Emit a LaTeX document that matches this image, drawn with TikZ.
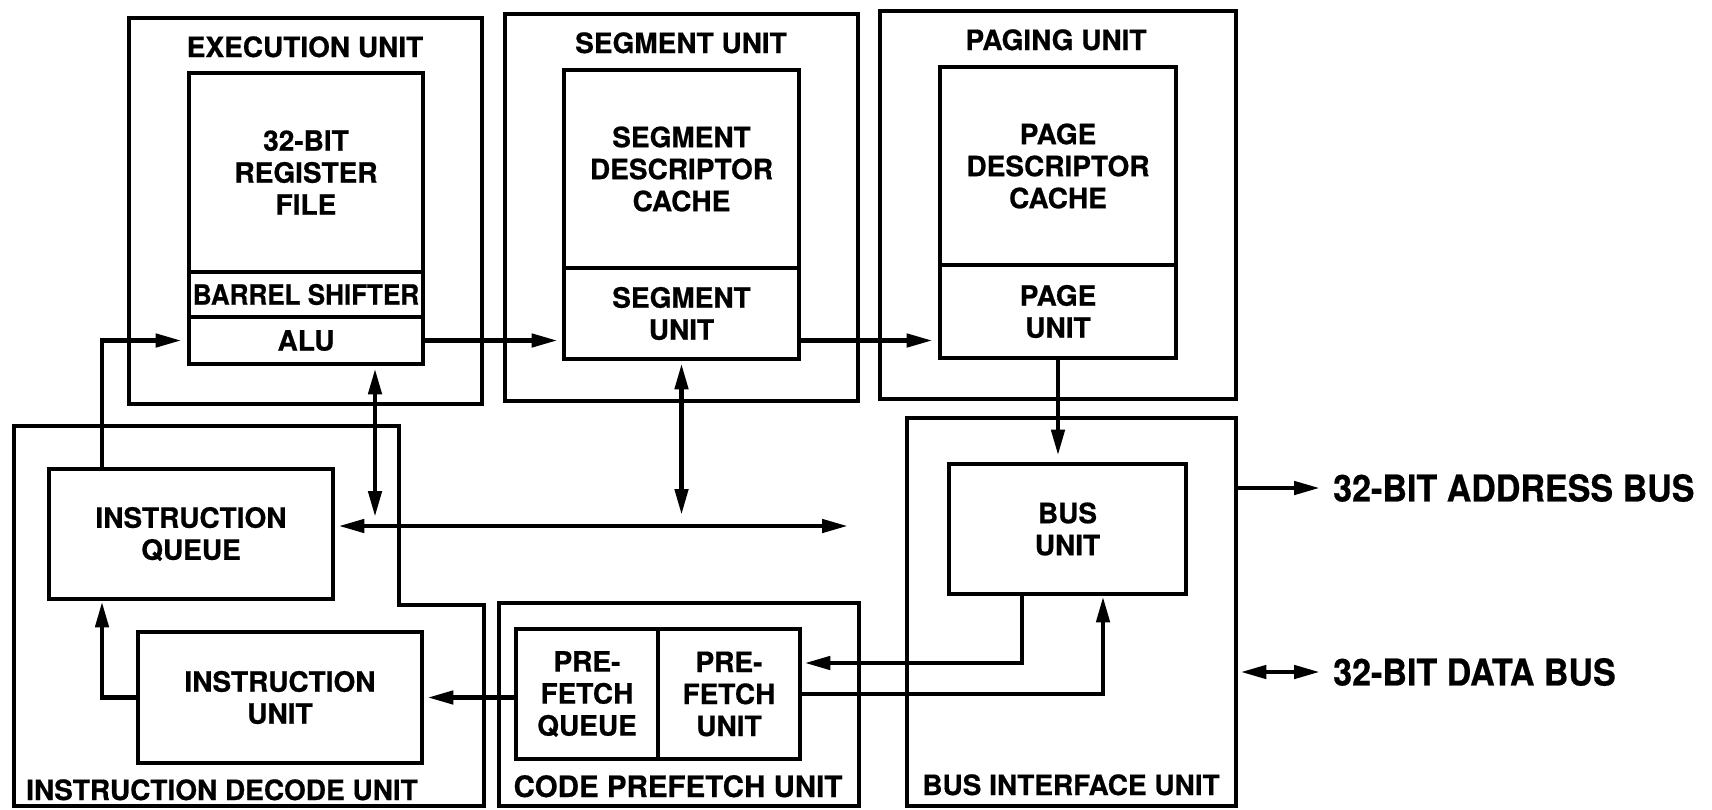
\documentclass[tikz,border=0pt]{standalone}
\usepackage{fontspec}
\setmainfont{TeX Gyre Heros}[BoldFeatures={FakeBold=0.6}]
\usetikzlibrary{arrows.meta,calc}

\begin{document}
\begin{tikzpicture}[x=1pt,y=-1pt,
  every node/.style={font=\bfseries\fontsize{28}{32}\selectfont},
  unitbox/.style={draw, line width=4.8pt, inner sep=0pt},
  blk/.style={draw, line width=4.8pt, inner sep=0pt, align=center},
  ttl/.style={anchor=base, inner sep=0pt},
  conn/.style={line width=4.6pt},
  arr/.style={conn, -{Triangle[length=26pt,width=13pt]}},
  darr/.style={conn, {Triangle[length=26pt,width=13pt]}-{Triangle[length=26pt,width=13pt]}},
]
\useasboundingbox (0,0) rectangle (1712,809);

% ---- outer unit frames ----
\node[unitbox, minimum width=353pt, minimum height=386pt] (exec) at (305.5,211) {};
\node[unitbox, minimum width=353pt, minimum height=387pt] (segm) at (681.5,207.5) {};
\node[unitbox, minimum width=356pt, minimum height=388pt] (pag)  at (1058,205) {};
\node[unitbox, minimum width=329pt, minimum height=388pt] (biu)  at (1071.5,612) {};
\node[unitbox, minimum width=360pt, minimum height=203pt] (cpf)  at (679,704.5) {};
\draw[line width=4.8pt] (14,426) -- (399,426) -- (399,605) -- (484,605) -- (484,806) -- (14,806) -- cycle;

% ---- unit titles ----
\node[ttl] (t-exec) at (305,57) {EXECUTION UNIT};
\node[ttl] (t-segm) at (681,53) {SEGMENT UNIT};
\node[ttl] (t-pag)  at (1056,50) {PAGING UNIT};
\node[ttl] (t-idu)  at (222,800) {INSTRUCTION DECODE UNIT};
\node[ttl, font=\bfseries\fontsize{29.5}{32}\selectfont] (t-cpf) at (678,797) {CODE PREFETCH UNIT};
\node[ttl] (t-biu)  at (1071,795) {BUS INTERFACE UNIT};

% ---- execution unit ----
\node[blk, minimum width=234pt, minimum height=199pt] (regf) at (306,172.5) {32-BIT\\REGISTER\\FILE};
\node[blk, minimum width=234pt, minimum height=45pt] (barrel) at (306,294.5) {\scalebox{0.93}[1]{BARREL SHIFTER}};
\node[blk, minimum width=234pt, minimum height=47pt] (alu) at (306,340.5) {ALU};

% ---- segment unit ----
\node[blk, minimum width=235pt, minimum height=198pt] (segc) at (681.5,169) {SEGMENT\\DESCRIPTOR\\CACHE};
\node[blk, minimum width=235pt, minimum height=91pt] (segu) at (681.5,313.5) {SEGMENT\\UNIT};

% ---- paging unit ----
\node[blk, minimum width=236pt, minimum height=198pt] (pagec) at (1058,166) {PAGE\\DESCRIPTOR\\CACHE};
\node[blk, minimum width=236pt, minimum height=93pt] (pageu) at (1058,311.5) {PAGE\\UNIT};

% ---- bus interface ----
\node[blk, minimum width=237pt, minimum height=130pt] (bus) at (1067.5,529) {BUS\\UNIT};

% ---- instruction decode ----
\node[blk, minimum width=284pt, minimum height=130pt] (iq) at (191,534) {INSTRUCTION\\QUEUE};
\node[blk, minimum width=284pt, minimum height=131pt] (iu) at (280,697.5) {INSTRUCTION\\UNIT};

% ---- code prefetch ----
\node[blk, minimum width=142pt, minimum height=130pt] (pfq) at (587,694) {PRE-\\FETCH\\QUEUE};
\node[blk, minimum width=142pt, minimum height=130pt] (pfu) at (729,694) {PRE-\\FETCH\\UNIT};

% ---- external buses ----
\node[anchor=west, inner sep=0pt, font=\bfseries\fontsize{37}{40}\selectfont] (abus) at (1333,488) {\scalebox{0.92}[1]{32-BIT ADDRESS BUS}};
\node[anchor=west, inner sep=0pt, font=\bfseries\fontsize{37}{40}\selectfont] (dbus) at (1333,672) {\scalebox{0.92}[1]{32-BIT DATA BUS}};

% ---- connector routing points ----
\coordinate (qx) at (102,0);
\coordinate (ja) at (375,517);
\coordinate (jb) at (681.5,515);
\coordinate (jc) at (848,526);
\coordinate (ba) at (1022,663);
\coordinate (bb) at (1103,0);

% ---- connectors ----
\draw[arr, shorten >=5pt] (qx |- iq.north) |- (alu.west);
\draw[arr, shorten >=4pt] (alu.east) -- (alu.east -| segu.west);
\draw[arr, shorten >=5pt] (segu.east |- alu.east) -- (alu.east -| pageu.west);
\draw[arr, shorten >=6pt] (pageu.south) -- (pageu.south |- bus.north);
\draw[darr, shorten <=2pt] (alu.south -| ja) -- (ja);
\draw[darr, shorten <=2pt] (segu.south) -- (jb);
\draw[darr, shorten <=3pt] (iq.east |- jc) -- (jc);
\draw[arr] (iu.west) -| (qx |- iq.south);
\draw[arr, shorten >=3pt] (pfq.west |- iu.east) -- (iu.east);
\draw[arr, shorten >=2pt] (bus.south -| ba) |- (pfu.east |- ba);
\draw[arr] (pfu.east) -| (bus.south -| bb);
\draw[arr, shorten >=13pt] (biu.east |- abus.west) -- (abus.west);
\draw[darr, shorten <=2pt, shorten >=13pt] (biu.east |- dbus.west) -- (dbus.west);
\end{tikzpicture}
\end{document}
